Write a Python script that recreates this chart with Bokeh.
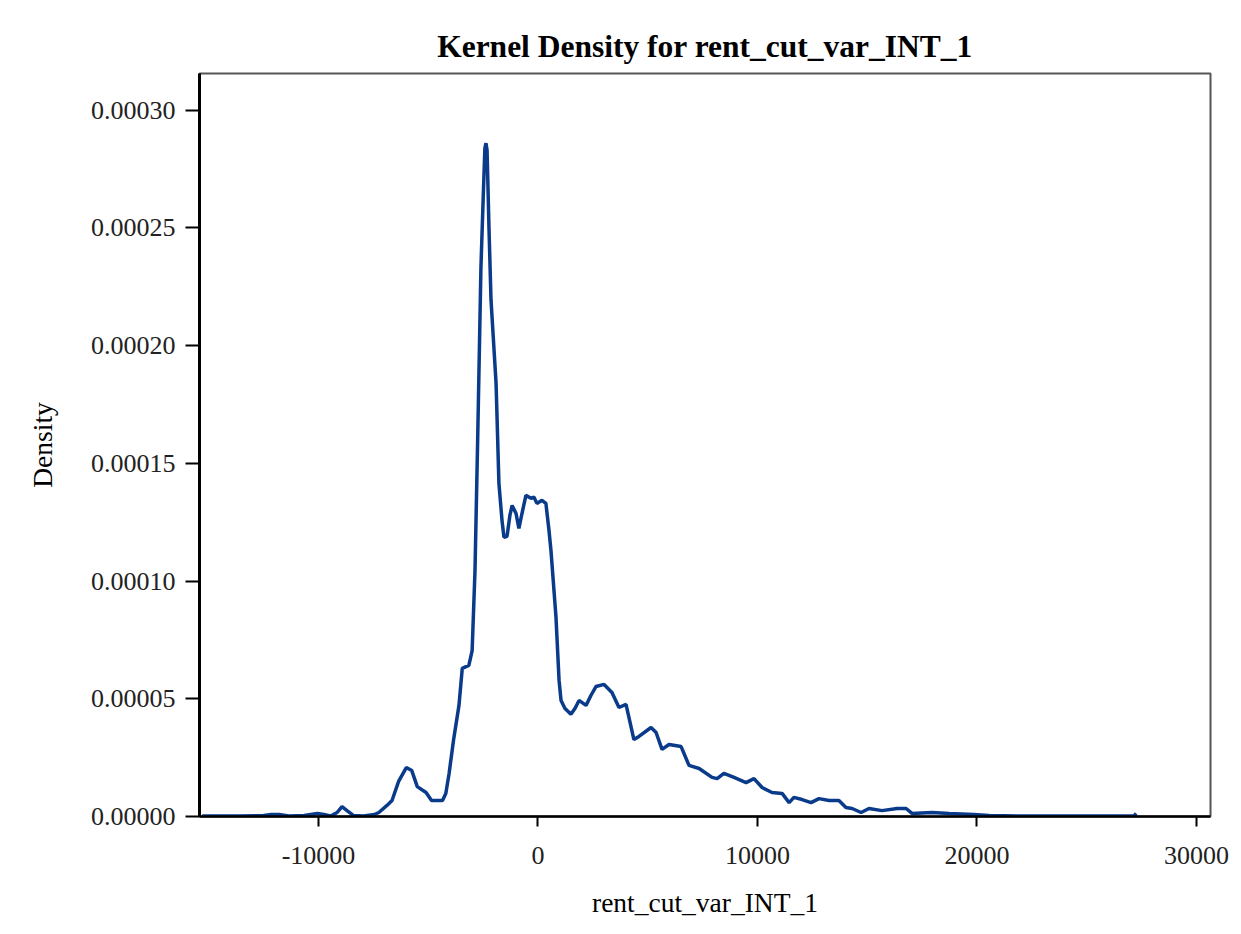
from bokeh.plotting import figure
from bokeh.models import Range1d, FixedTicker, CustomJSTickFormatter
from bokeh.embed import file_html
from bokeh.resources import INLINE

# Kernel density estimate
rent_x = [-15300, -13600, -12500, -12150, -11800, -11350, -10650, -10350, -10050, -9750,
          -9450, -9150, -8930, -8700, -8400, -7950, -7450, -7250, -6880, -6650,
          -6350, -6000, -5750, -5500, -5100, -4850, -4350, -4200, -4050, -3850,
          -3600, -3450, -3150, -3000, -2870, -2750, -2600, -2500, -2420, -2370,
          -2320, -2230, -2140, -1910, -1780, -1640, -1550, -1410, -1280, -1180,
          -1000, -870, -730, -550, -320, -180, -50, 180, 360, 500,
          590, 820, 960, 1050, 1230, 1500, 1690, 1870, 2190, 2410,
          2640, 3010, 3370, 3690, 4010, 4370, 4600, 5150, 5380, 5650,
          5970, 6520, 6880, 7340, 7930, 8160, 8470, 8930, 9480, 9840,
          10210, 10660, 11120, 11440, 11660, 12030, 12440, 12800, 13260, 13710,
          14030, 14310, 14720, 15080, 15670, 16360, 16770, 17040, 17950, 18730,
          19860, 20550, 21910, 25560, 27150, 27250]
density_e6 = [0.2, 0.2, 0.4, 0.85, 0.85, 0.2, 0.4, 0.85, 1.3, 0.85,
              0.2, 1.7, 4.2, 2.5, 0.4, 0.2, 0.85, 1.7, 4.7, 6.8,
              14.9, 20.8, 19.5, 12.7, 10.2, 6.8, 6.8, 9.8, 18.3, 32.3,
              47.2, 62.9, 64.2, 70.5, 104.5, 159.3, 233.0, 261.7, 283.8, 286.0,
              283.0, 249.0, 219.3, 184.0, 141.5, 125.8, 118.6, 119.0, 127.9, 132.1,
              128.7, 122.4, 128.7, 136.4, 135.2, 135.6, 133.0, 134.3, 133.0, 121.6,
              113.1, 84.6, 57.8, 49.3, 45.9, 43.4, 46.0, 49.3, 47.2, 51.4,
              55.2, 56.1, 52.7, 46.3, 47.6, 32.7, 34.0, 37.8, 35.7, 28.5,
              30.6, 29.7, 21.7, 20.4, 16.6, 16.1, 18.3, 16.6, 14.4, 16.1,
              12.3, 10.2, 9.8, 5.9, 8.1, 7.2, 5.9, 7.6, 6.8, 6.8,
              3.8, 3.4, 1.7, 3.4, 2.5, 3.4, 3.4, 1.3, 1.7, 1.3,
              0.85, 0.4, 0.2, 0.2, 0.2, 1.3]
density = [v * 1e-6 for v in density_e6]

x_ticks = [-10000, 0, 10000, 20000, 30000]
y_ticks = [0.0, 0.00005, 0.0001, 0.00015, 0.0002, 0.00025, 0.0003]

SERIF = "Liberation Serif"

p = figure(width=1233, height=926, output_backend="svg", toolbar_location=None,
           x_range=Range1d(-15421, 30638), y_range=Range1d(0, 0.0003156),
           min_border_left=199, min_border_right=23, min_border_top=73, min_border_bottom=110,
           title="Kernel Density for rent_cut_var_INT_1")
p.background_fill_color = "white"
p.border_fill_color = "white"
p.outline_line_color = "#555555"
p.outline_line_width = 2
p.xgrid.grid_line_color = None
p.ygrid.grid_line_color = None

p.title.align = "center"
p.title.text_font = SERIF
p.title.text_font_size = "31.5px"
p.title.text_font_style = "bold"
p.title.text_color = "black"
p.title.standoff = 19

p.line(rent_x, density, line_color="#0a3a8a", line_width=3.5)

p.xaxis.ticker = FixedTicker(ticks=x_ticks)
p.yaxis.ticker = FixedTicker(ticks=y_ticks)
p.yaxis.formatter = CustomJSTickFormatter(code="return tick.toFixed(5);")
p.xaxis.formatter = CustomJSTickFormatter(code="return tick.toFixed(0);")

for ax in (p.xaxis, p.yaxis):
    ax.axis_line_color = "black"
    ax.major_tick_line_color = "black"
    ax.major_tick_line_width = 2
    ax.minor_tick_line_color = None
    ax.major_tick_in = 0
    ax.major_label_text_font = SERIF
    ax.major_label_text_font_size = "26px"
    ax.major_label_text_color = "#222222"
    ax.axis_label_text_font = SERIF
    ax.axis_label_text_font_size = "27.5px"
    ax.axis_label_text_font_style = "normal"
    ax.axis_label_text_color = "black"

p.yaxis.axis_line_width = 3
p.xaxis.axis_line_width = 2.5
p.yaxis.major_tick_out = 14
p.xaxis.major_tick_out = 10
p.yaxis.major_label_standoff = 10
p.xaxis.major_label_standoff = 20
p.xaxis.axis_label = "rent_cut_var_INT_1"
p.yaxis.axis_label = "Density"
p.xaxis.axis_label_standoff = 20
p.yaxis.axis_label_standoff = 30

open("out.html", "w").write(file_html(p, INLINE))
